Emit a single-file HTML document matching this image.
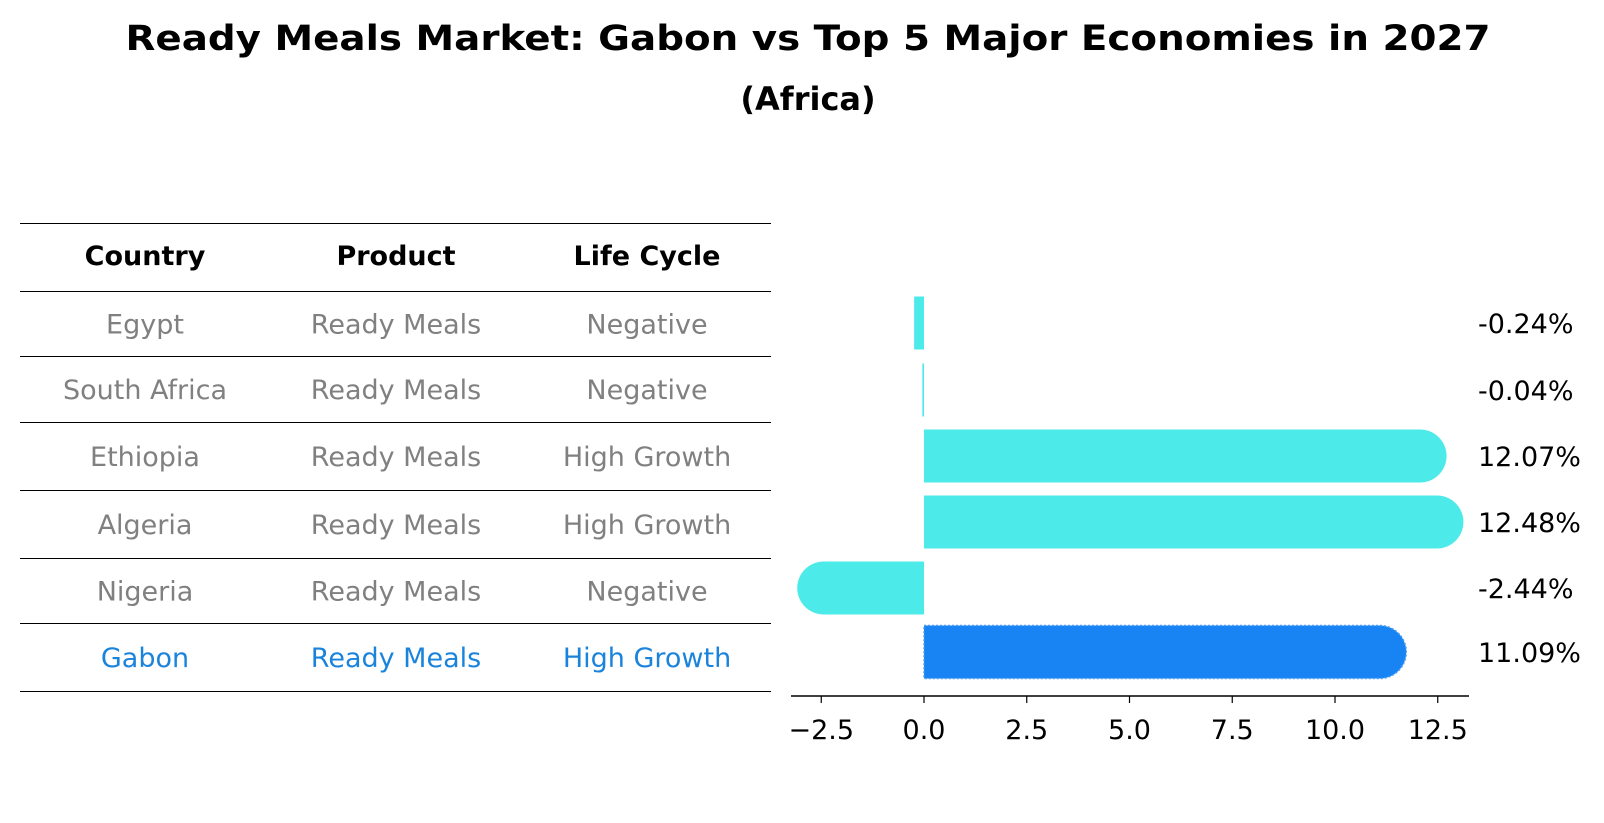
<!DOCTYPE html>
<html><head><meta charset="utf-8"><style>
body{margin:0;background:#fff;}
svg{display:block;font-family:"DejaVu Sans","Liberation Sans",sans-serif;}
</style></head><body>
<svg width="1604" height="823" viewBox="0 0 1604 823">
<text x="808" y="50" text-anchor="middle" font-size="35" font-weight="bold" textLength="1365" lengthAdjust="spacingAndGlyphs">Ready Meals Market: Gabon vs Top 5 Major Economies in 2027</text>
<text x="808" y="110" text-anchor="middle" font-size="32" font-weight="bold">(Africa)</text>
<g id="table"></g>
<g id="bars"></g>
</svg>
<script>
const countries=["Egypt","South Africa","Ethiopia","Algeria","Nigeria","Gabon"];
const products=["Ready Meals","Ready Meals","Ready Meals","Ready Meals","Ready Meals","Ready Meals"];
const lifeCycles=["Negative","Negative","High Growth","High Growth","Negative","High Growth"];
const values=[-0.24,-0.04,12.07,12.48,-2.44,11.09];
const valueLabels=["-0.24%","-0.04%","12.07%","12.48%","-2.44%","11.09%"];
const ticks=[-2.5,0,2.5,5,7.5,10,12.5];
const tickLabels=["\u22122.5","0.0","2.5","5.0","7.5","10.0","12.5"];

const NS="http://www.w3.org/2000/svg";
function mk(tag,attrs,parent){const e=document.createElementNS(NS,tag);for(const k in attrs)e.setAttribute(k,attrs[k]);parent.appendChild(e);return e;}
const tbl=document.getElementById('table');
const rowLines=[223,291,356,422,490,558,623,691];
rowLines.forEach(y=>{const l=mk('line',{x1:20,x2:771,y1:y+0.5,y2:y+0.5,stroke:'#000','stroke-width':1},tbl);

});
const colX=[145,396,647];
["Country","Product","Life Cycle"].forEach((h,i)=>{const t=mk('text',{x:colX[i],y:265,'text-anchor':'middle','font-size':27,'font-weight':'bold'},tbl);t.textContent=h;

});
countries.forEach((c,r)=>{const yc=(rowLines[r+1]+rowLines[r+2])/2+10;const col=r===5?'#1a84dc':'#808080';
[c,products[r],lifeCycles[r]].forEach((v,i)=>{const t=mk('text',{x:colX[i],y:yc,'text-anchor':'middle','font-size':27,fill:col},tbl);t.textContent=v;

});});

const g=document.getElementById('bars');
const x0=924,ppu=41.1;
const X=v=>x0+v*ppu;
const centers=[323,390,456,522,588,652];
const bh=53,r=bh/2;
values.forEach((v,i)=>{const cy=centers[i];const col=i===5?'#1883f2':'#4deaea';
const xs=X(0),xe=X(v);let d;
if(Math.abs(xe-xs)<r){const a=Math.min(xs,xe),b=Math.max(xs,xe);d=`M${a},${cy-r}H${b}V${cy+r}H${a}Z`;}
else if(v>=0){d=`M${xs},${cy-r}H${xe}A${r},${r} 0 0 1 ${xe},${cy+r}H${xs}Z`;}
else{d=`M${xs},${cy-r}H${xe}A${r},${r} 0 0 0 ${xe},${cy+r}H${xs}Z`;}
const attrs={d:d,fill:col};if(i===5){attrs.stroke='#4a9ff5';attrs['stroke-dasharray']='2,2';attrs['stroke-width']=1.5;}
const p=mk('path',attrs,g);


const t=mk('text',{x:1478,y:cy+10,'font-size':27},g);t.textContent=valueLabels[i];

});
const ax=mk('line',{x1:791,x2:1469,y1:696,y2:696,stroke:'#000','stroke-width':1.5},g);


ticks.forEach((tv,i)=>{const x=X(tv);const l=mk('line',{x1:x,x2:x,y1:696,y2:703,stroke:'#000','stroke-width':1.2},g);


const t=mk('text',{x:x,y:739,'text-anchor':'middle','font-size':27},g);t.textContent=tickLabels[i];

});
</script>
</body></html>
